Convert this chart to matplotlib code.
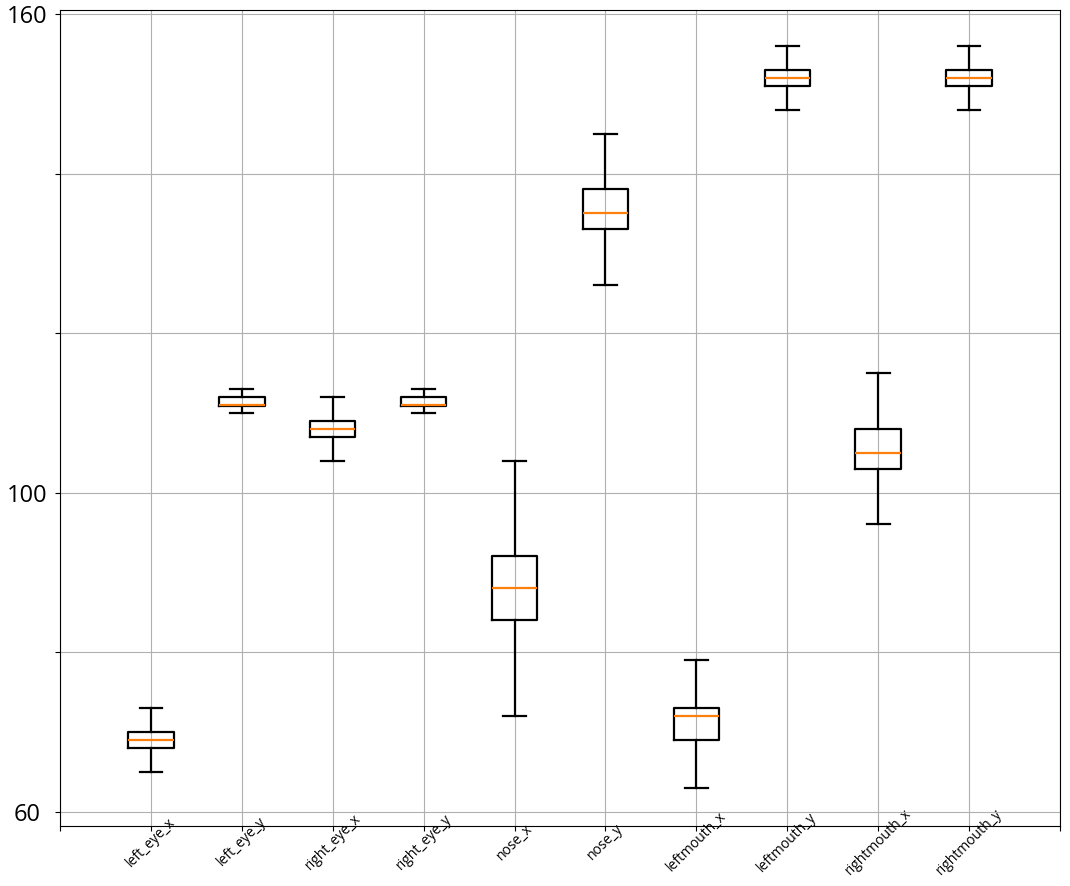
import matplotlib
matplotlib.use('Agg')
import matplotlib.pyplot as plt

plt.rcParams['font.family'] = ['Open Sans', 'DejaVu Sans']

# landmark coordinates, boxplot summary
labels = ['left_eye_x', 'left_eye_y', 'right_eye_x', 'right_eye_y', 'nose_x',
          'nose_y', 'leftmouth_x', 'leftmouth_y', 'rightmouth_x', 'rightmouth_y']
whislo = [65, 110, 104, 110, 72, 126, 63, 148, 96, 148]
q1 = [68, 110.9, 107, 110.9, 84, 133, 69, 151, 103, 151]
med = [69, 111, 108, 111, 88, 135, 72, 152, 105, 152]
q3 = [70, 112, 109, 112, 92, 138, 73, 153, 108, 153]
whishi = [73, 113, 112, 113, 104, 145, 79, 156, 115, 156]

stats = [dict(label=l, whislo=a, q1=b, med=c, q3=d, whishi=e, fliers=[])
         for l, a, b, c, d, e in zip(labels, whislo, q1, med, q3, whishi)]

fig = plt.figure(figsize=(10.7, 8.86), dpi=100)
ax = fig.add_axes([60 / 1070, 1 - 826 / 886, 1000 / 1070, 816 / 886])

lw = 1.6
ax.bxp(stats, positions=range(1, len(labels) + 1), widths=0.5,
       boxprops=dict(color='black', linewidth=lw),
       whiskerprops=dict(color='black', linewidth=lw),
       capprops=dict(color='black', linewidth=lw),
       medianprops=dict(color='#ff7f0e', linewidth=lw),
       showfliers=False)

ax.set_xlim(0, len(labels) + 1)
ax.set_ylim(58.2, 160.5)
ax.set_xticks(range(0, len(labels) + 2))
ax.set_xticklabels([''] + labels + [''], rotation=45, rotation_mode='anchor',
                   ha='center', va='center', fontsize=10)
ax.tick_params(axis='x', pad=8)
ax.set_yticks([60, 80, 100, 120, 140, 160])
ax.set_yticklabels(['60', '', '100', '', '', '160'], fontsize=17, ha='center')
ax.tick_params(axis='y', pad=20)
ax.grid(True)
ax.set_axisbelow(True)

fig.savefig('out.png', dpi=100)
